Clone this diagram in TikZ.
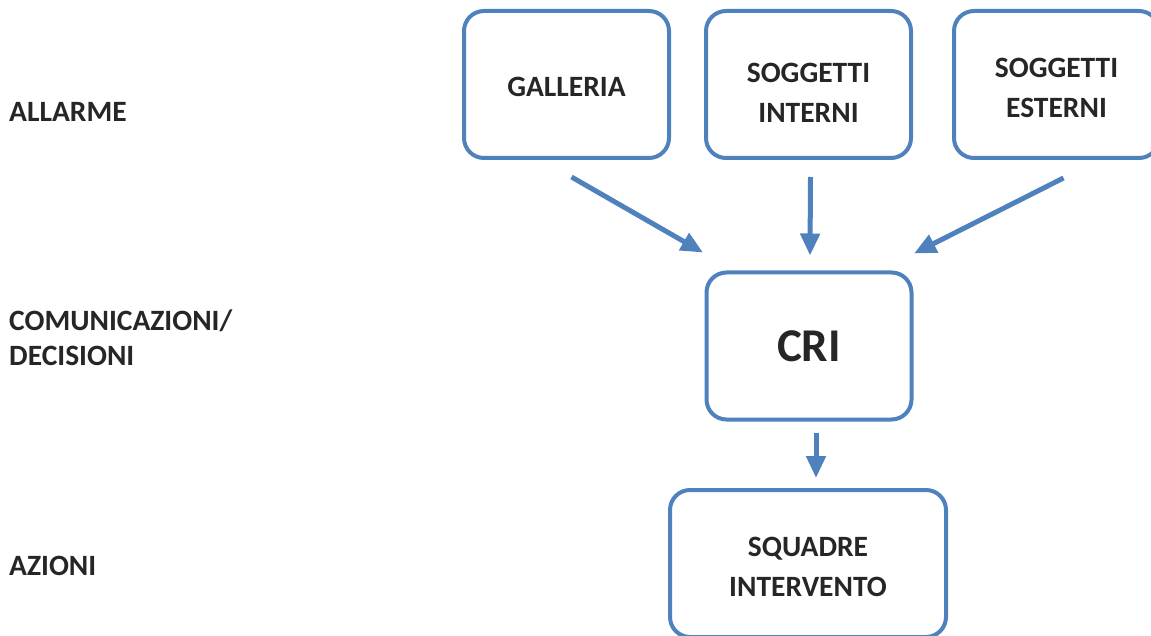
\documentclass[tikz,border=0pt]{standalone}
\usepackage{fontspec}
\setmainfont{Carlito}
\usetikzlibrary{arrows.meta, positioning}
\definecolor{boxblue}{RGB}{79,129,189}

\begin{document}
\begin{tikzpicture}[x=1pt, y=-1pt,
  box/.style={draw=boxblue, line width=4pt, rounded corners=20pt, fill=white,
    minimum width=205pt, minimum height=147pt, align=center,
    font=\fontsize{29.5}{40}\selectfont\bfseries, text=black!85},
  txtlow/.style={text height=#1},
  phase/.style={anchor=west, inner sep=0pt, align=left,
    font=\fontsize{29.5}{35}\selectfont\bfseries, text=black!85},
  flow/.style={color=boxblue, line width=5pt, -{Triangle[length=22pt,width=19pt]}}]
  \clip (0,0) rectangle (1151,636);

  % fasi
  \node[phase] (allarme) at (9,112) {ALLARME};
  \node[phase] (comunic) at (9,338) {COMUNICAZIONI/\\DECISIONI};
  \node[phase] (azioni) at (9,566) {AZIONI};

  % blocchi
  \node[box, txtlow=25pt] (gal) at (566.5,84.5) {GALLERIA};
  \node[box, txtlow=76pt] (int) at (808.5,84.5) {SOGGETTI\\INTERNI};
  \node[box, txtlow=67pt] (ext) at (1056.5,84.5) {SOGGETTI\\ESTERNI};
  \node[box, font=\fontsize{47}{50}\selectfont\bfseries] (cri) at (809,346) {CRI};
  \node[box, txtlow=67pt, minimum width=276pt] (squ) at (808,563.5) {SQUADRE\\INTERVENTO};

  \path[flow]
  ([xshift=5pt,yshift=-17pt]gal.south) edge ([xshift=-106pt,yshift=18pt]cri.north)
  ([xshift=2pt,yshift=-17pt]int.south) edge ([xshift=1pt,yshift=15pt]cri.north)
  ([xshift=7pt,yshift=-18pt]ext.south) edge ([xshift=105pt,yshift=17pt]cri.north)
  ([xshift=7pt,yshift=-11pt]cri.south) edge ([xshift=8pt,yshift=10pt]squ.north);
\end{tikzpicture}
\end{document}
